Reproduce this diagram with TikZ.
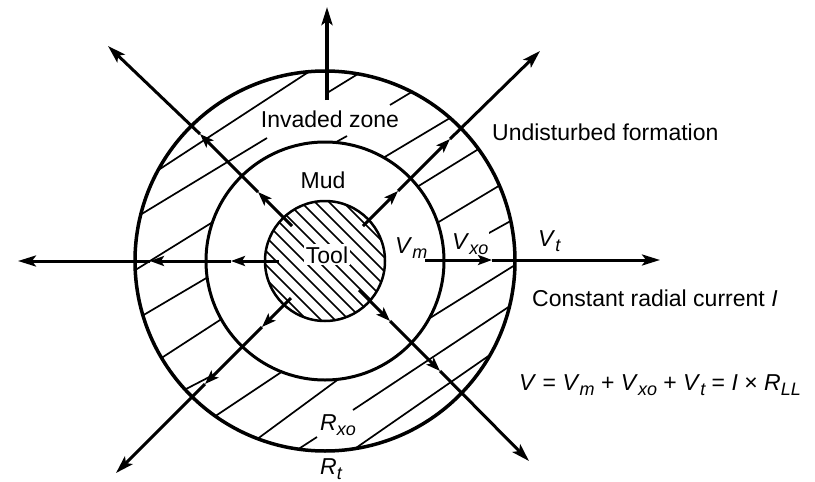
\documentclass[tikz,border=0pt]{standalone}
\usepackage{fontspec}
\setmainfont{Liberation Sans}
\usetikzlibrary{arrows.meta}
\newcommand\ssub[1]{\raisebox{-5pt}{\fontsize{18}{18}\selectfont\itshape #1}}
\newcommand\iv[2]{\textit{#1}\ssub{#2}}
\begin{document}
\begin{tikzpicture}[x=1pt,y=-1pt,
  ray/.style={line width=3pt},
  endtip/.style={-{Stealth[length=18pt,width=11pt,inset=4pt]}},
  midtip/.style={-{Stealth[length=14pt,width=10pt,inset=3pt]}},
  hatchline/.style={line width=1.7pt},
  extboth/.style={shorten <=-7pt, shorten >=-7pt},
  extstart/.style={shorten <=-7pt},
  extend/.style={shorten >=-7pt},
  lbl/.style={font=\fontsize{23}{27}\selectfont, inner sep=1pt},
  whitelbl/.style={lbl, fill=white}]
\useasboundingbox (0,0) rectangle (815,482);
\coordinate (c) at (325,261);

% hatching of the invaded zone
\begin{scope}
  \clip (c) circle[radius=190];
  \draw[hatchline, extboth] (163,167) -- (307,73);
  \draw[hatchline, extstart] (140,215) -- (267,138);
  \draw[hatchline, extboth] (137,269) -- (208,225);
  \draw[hatchline, extboth] (147,313) -- (203,280);
  \draw[hatchline, extboth] (163,357) -- (220,320);
  \draw[hatchline, extstart] (188,388) -- (217,373);
  \draw[hatchline, extboth] (220,413) -- (277,375);
  \draw[hatchline, extboth] (260,437) -- (336,381);
  \draw[hatchline, extstart] (297,450) -- (317,437);
  \draw[hatchline, extend] (327,93) -- (353,77);
  \draw[hatchline, extend] (390,105) -- (410,93);
  \draw[hatchline, extstart] (338,141) -- (347,136);
  \draw[hatchline, extboth] (383,158) -- (450,118);
  \draw[hatchline, extboth] (417,187) -- (477,150);
  \draw[hatchline, extboth] (437,223) -- (497,187);
  \draw[hatchline, extend] (480,238) -- (507,223);
  \draw[hatchline, extboth] (515,265) -- (430,318);
  \draw[hatchline, extstart] (507,308) -- (353,410);
  \draw[hatchline, extboth] (487,357) -- (353,450);
\end{scope}
\fill[white] (c) circle[radius=119];

% hatching of the tool
\begin{scope}
  \clip (c) circle[radius=60];
  \foreach \k in {-77,-63,...,77}
    \draw[hatchline] ({325+\k/2-80},{261-\k/2-80}) -- ({325+\k/2+80},{261-\k/2+80});
\end{scope}

% labels
\node[whitelbl, anchor=base] (inv) at (330,127) {Invaded zone};
\node[lbl, anchor=base] (mud) at (323,188) {Mud};
\node[whitelbl, anchor=base, inner sep=2pt] (tool) at (327,263) {Tool};
\node[lbl, anchor=base west] (und) at (491,140) {Undisturbed formation};
\node[lbl, anchor=base west] (crc) at (531,306) {Constant radial current \textit{I}};
\node[lbl, anchor=base west] (eq) at (518,390) {\textit{V} = \iv{V}{m} + \iv{V}{xo} + \iv{V}{t} = \textit{I} × \iv{R}{LL}};
\node[whitelbl, anchor=base west] (vm) at (394,253) {\iv{V}{m}};
\node[whitelbl, anchor=base west] (vxo) at (451,249) {\iv{V}{xo}};
\node[lbl, anchor=base west] (vt) at (537,246) {\iv{V}{t}};
\node[whitelbl, anchor=base west] (rxo) at (319,430) {\iv{R}{xo}};
\node[lbl, anchor=base west] (rt) at (319,474) {\iv{R}{t}};

% circles
\draw[line width=3.5pt] (c) circle[radius=190];
\draw[line width=3pt] (c) circle[radius=119];
\draw[line width=2.5pt] (c) circle[radius=60];

% rays
\coordinate (u0) at (327,100); \coordinate (u1) at (327,7);
\coordinate (ul0) at (292,226); \coordinate (ul1) at (258,192);
\coordinate (ul2) at (200,134); \coordinate (ul3) at (108,46);
\coordinate (ur0) at (363,226); \coordinate (ur1) at (398,191);
\coordinate (ur2) at (450,139); \coordinate (ur3) at (540,51);
\coordinate (l0) at (279,261); \coordinate (l1) at (231,261);
\coordinate (l2) at (150,261); \coordinate (l3) at (18,261);
\coordinate (r0) at (425,260); \coordinate (r1) at (492,260);
\coordinate (r2) at (660,260);
\coordinate (dl0) at (291,298); \coordinate (dl1) at (262,327);
\coordinate (dl2) at (205,384); \coordinate (dl3) at (116,473);
\coordinate (dr0) at (359,290); \coordinate (dr1) at (390,321);
\coordinate (dr2) at (440,371); \coordinate (dr3) at (529,461);

\draw[ray, line width=3.8pt, endtip] (u0) -- (u1);
\draw[ray, midtip] (ul0) -- (ul1);
\draw[ray, midtip] (ul1) -- (ul2);
\draw[ray, endtip] (ul2) -- (ul3);
\draw[ray, midtip] (ur0) -- (ur1);
\draw[ray, midtip] (ur1) -- (ur2);
\draw[ray, endtip] (ur2) -- (ur3);
\draw[ray, midtip] (l0) -- (l1);
\draw[ray, midtip] (l1) -- (l2);
\draw[ray, endtip] (l2) -- (l3);
\draw[ray, midtip] (r0) -- (r1);
\draw[ray, endtip] (r1) -- (r2);
\draw[ray, midtip] (dl0) -- (dl1);
\draw[ray, midtip] (dl1) -- (dl2);
\draw[ray, endtip] (dl2) -- (dl3);
\draw[ray, midtip] (dr0) -- (dr1);
\draw[ray, midtip] (dr1) -- (dr2);
\draw[ray, endtip] (dr2) -- (dr3);
\end{tikzpicture}
\end{document}
